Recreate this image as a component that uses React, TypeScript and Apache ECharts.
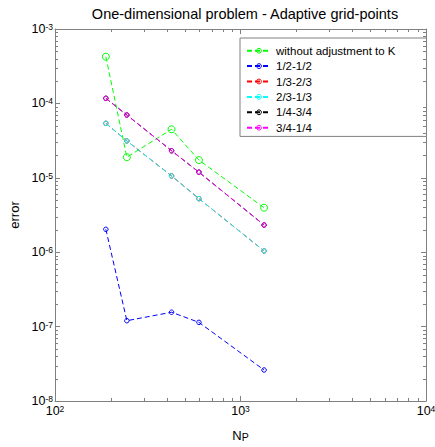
import React, { useEffect, useRef } from "react";
import * as echarts from "echarts";

const npValues = [188, 244, 425, 597, 1340];
const seriesNames = ["without adjustment to K", "1/2-1/2", "1/3-2/3", "2/3-1/3", "1/4-3/4", "3/4-1/4"];
const seriesColors = ["#00ff00", "#0000ff", "#ff0000", "#00ffff", "#000000", "#ff00ff"];
const errWithout = [4.24e-4, 1.89e-5, 4.49e-5, 1.73e-5, 3.96e-6];
const errHalf = [2.03e-6, 1.2e-7, 1.56e-7, 1.14e-7, 2.61e-8];
const errThirdTwoThird = [5.4e-5, 3.13e-5, 1.06e-5, 5.24e-6, 1.04e-6];
const errTwoThirdThird = [5.4e-5, 3.13e-5, 1.06e-5, 5.24e-6, 1.04e-6];
const errQuarterThreeQuarter = [1.17e-4, 6.98e-5, 2.31e-5, 1.19e-5, 2.32e-6];
const errThreeQuarterQuarter = [1.17e-4, 6.98e-5, 2.31e-5, 1.19e-5, 2.32e-6];
const seriesValues = [errWithout, errHalf, errThirdTwoThird, errTwoThirdThird, errQuarterThreeQuarter, errThreeQuarterQuarter];
const symbolSizes = [7, 4.5, 4.5, 4.5, 4.5, 4.5];

const xMin = 100;
const xMax = 10000;
const yMin = 1e-8;
const yMax = 1e-3;
const xMinorTicks = [200, 300, 400, 500, 600, 700, 800, 900, 2000, 3000, 4000, 5000, 6000, 7000, 8000, 9000];
const yMinorTicks: number[] = [];
[-8, -7, -6, -5, -4].forEach((e) => {
  for (let k = 2; k <= 9; k++) yMinorTicks.push(k * Math.pow(10, e));
});

const FONT = "Liberation Sans, Arial, sans-serif";
const AX = "#808080";
const MINOR_LEN = 3;

function expLabel(v: number) {
  const e = Math.round(Math.log10(v));
  return `{b|10}{s|${e}}`;
}

export default function App() {
  const ref = useRef<HTMLDivElement>(null);
  useEffect(() => {
    if (!ref.current) return;
    const chart = echarts.init(ref.current, undefined, { renderer: "svg" });
    const tickStyle = { stroke: AX, lineWidth: 1, fill: "none" };
    const minorXSeries = {
      type: "custom",
      name: "xMinor",
      coordinateSystem: "cartesian2d",
      xAxisIndex: 0,
      yAxisIndex: 0,
      silent: true,
      clip: false,
      z: 10,
      data: xMinorTicks.map((v) => [v, yMin]),
      renderItem: (params: any, api: any) => {
        const v = api.value(0);
        const pb = api.coord([v, yMin]);
        const pt = api.coord([v, yMax]);
        const x = Math.round(pb[0]) + 0.5;
        return {
          type: "group",
          children: [
            { type: "line", shape: { x1: x, y1: pb[1], x2: x, y2: pb[1] - MINOR_LEN }, style: tickStyle },
            { type: "line", shape: { x1: x, y1: pt[1], x2: x, y2: pt[1] + MINOR_LEN }, style: tickStyle },
          ],
        };
      },
    };
    const minorYSeries = {
      type: "custom",
      name: "yMinor",
      coordinateSystem: "cartesian2d",
      xAxisIndex: 0,
      yAxisIndex: 0,
      silent: true,
      clip: false,
      z: 10,
      data: yMinorTicks.map((v) => [xMin, v]),
      renderItem: (params: any, api: any) => {
        const v = api.value(1);
        const pl = api.coord([xMin, v]);
        const pr = api.coord([xMax, v]);
        const y = Math.round(pl[1]) + 0.5;
        return {
          type: "group",
          children: [
            { type: "line", shape: { x1: pl[0], y1: y, x2: pl[0] + MINOR_LEN, y2: y }, style: tickStyle },
            { type: "line", shape: { x1: pr[0], y1: y, x2: pr[0] - MINOR_LEN, y2: y }, style: tickStyle },
          ],
        };
      },
    };
    const option: any = {
      animation: false,
      backgroundColor: "#ffffff",
      textStyle: { fontFamily: FONT },
      grid: { left: 55, top: 29, width: 371, height: 372, containLabel: false, outerBoundsMode: "none" },
      graphic: [
        {
          type: "text",
          x: 245,
          y: 14,
          style: { text: "One-dimensional problem - Adaptive grid-points", fontFamily: FONT, fontSize: 14.5, fill: "#000", align: "center", verticalAlign: "middle" },
        },
      ],
      legend: {
        orient: "vertical",
        left: 240,
        top: 38,
        padding: [5, 31, 1, 6],
        itemGap: 0,
        itemWidth: 24,
        itemHeight: 6,
        backgroundColor: "#ffffff",
        borderColor: AX,
        borderWidth: 1,
        borderRadius: 0,
        itemStyle: { color: "rgba(0,0,0,0)", borderWidth: 1 },
        textStyle: { fontFamily: FONT, fontSize: 11.5, color: "#000", lineHeight: 15.4 },
        data: seriesNames,
      },
      xAxis: [
        {
          type: "log",
          logBase: 10,
          min: xMin,
          max: xMax,
          splitNumber: 2,
          position: "bottom",
          axisLine: { show: true, lineStyle: { color: AX } },
          axisTick: { show: true, inside: true, length: 5, lineStyle: { color: AX } },
          axisLabel: {
            margin: 3,
            formatter: (v: number) => expLabel(v),
            rich: {
              b: { fontFamily: FONT, fontSize: 12.5, color: "#000", lineHeight: 13, verticalAlign: "bottom" },
              s: { fontFamily: FONT, fontSize: 8.5, color: "#000", lineHeight: 9, verticalAlign: "top", padding: [0, 0, 8, 0] },
            },
          },
          splitLine: { show: false },
          name: "{n|N}{p|P}",
          nameLocation: "middle",
          nameGap: 23,
          nameTextStyle: {
            rich: {
              n: { fontFamily: FONT, fontSize: 13, color: "#000", lineHeight: 14, verticalAlign: "top" },
              p: { fontFamily: FONT, fontSize: 10.5, color: "#000", lineHeight: 10, verticalAlign: "bottom", padding: [6, 0, 0, 0] },
            },
          },
        },
        {
          type: "log",
          logBase: 10,
          min: xMin,
          max: xMax,
          splitNumber: 2,
          position: "top",
          axisLine: { show: true, lineStyle: { color: AX } },
          axisTick: { show: true, inside: true, length: 5, lineStyle: { color: AX } },
          axisLabel: { show: false },
          splitLine: { show: false },
        },
      ],
      yAxis: [
        {
          type: "log",
          logBase: 10,
          min: yMin,
          max: yMax,
          splitNumber: 5,
          position: "left",
          axisLine: { show: true, lineStyle: { color: AX } },
          axisTick: { show: true, inside: true, length: 5, lineStyle: { color: AX } },
          axisLabel: {
            margin: 2,
            formatter: (v: number) => expLabel(v),
            rich: {
              b: { fontFamily: FONT, fontSize: 12.5, color: "#000", lineHeight: 13, verticalAlign: "middle" },
              s: { fontFamily: FONT, fontSize: 8.5, color: "#000", lineHeight: 9, verticalAlign: "top", padding: [0, 0, 15, 0] },
            },
          },
          splitLine: { show: false },
          name: "error",
          nameLocation: "middle",
          nameGap: 30,
          nameTextStyle: { fontFamily: FONT, fontSize: 13, color: "#000" },
        },
        {
          type: "log",
          logBase: 10,
          min: yMin,
          max: yMax,
          splitNumber: 5,
          position: "right",
          axisLine: { show: true, lineStyle: { color: AX } },
          axisTick: { show: true, inside: true, length: 5, lineStyle: { color: AX } },
          axisLabel: { show: false },
          splitLine: { show: false },
        },
      ],
      series: [
        minorXSeries,
        minorYSeries,
        ...seriesNames.map((name, i) => ({
          name,
          type: "line",
          xAxisIndex: 0,
          yAxisIndex: 0,
          data: npValues.map((x, j) => [x, seriesValues[i][j]]),
          symbol: "circle",
          symbolSize: symbolSizes[i],
          showAllSymbol: true,
          lineStyle: { color: seriesColors[i], width: 1, type: [5, 3] },
          itemStyle: { color: "rgba(0,0,0,0)", borderColor: seriesColors[i], borderWidth: 1 },
          emphasis: { disabled: true },
        })),
      ],
    };
    chart.setOption(option);
    return () => chart.dispose();
  }, []);
  return (
    <div
      ref={ref}
      style={{ position: "fixed", left: 0, top: 0, width: 435, height: 447, background: "#fff" }}
    />
  );
}
